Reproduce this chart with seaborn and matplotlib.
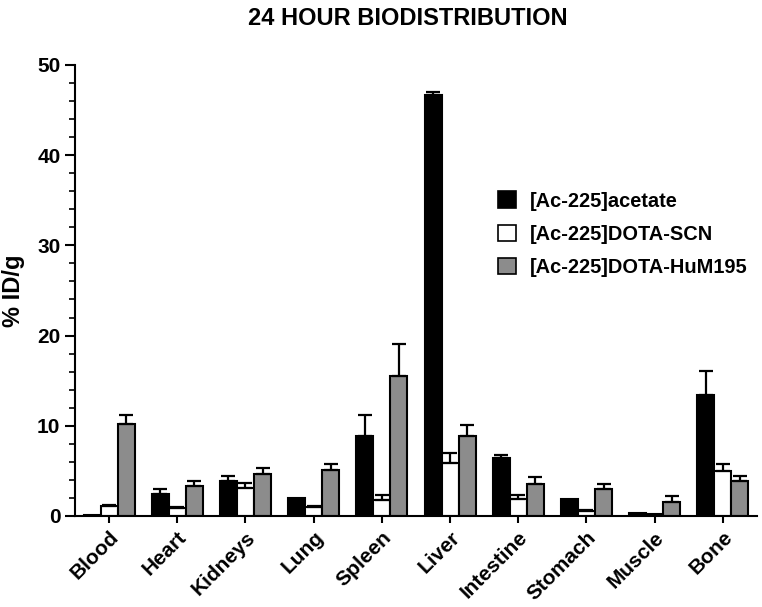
import pandas as pd
import matplotlib.pyplot as plt
import seaborn as sns
from matplotlib.patches import Patch
from matplotlib.ticker import MultipleLocator

organs = ['Blood', 'Heart', 'Kidneys', 'Lung', 'Spleen', 'Liver',
          'Intestine', 'Stomach', 'Muscle', 'Bone']
groups = ['[Ac-225]acetate', '[Ac-225]DOTA-SCN', '[Ac-225]DOTA-HuM195']

# mean %ID/g and upper error per group
acetate = [0.1, 2.45, 3.9, 1.95, 8.9, 46.7, 6.4, 1.85, 0.35, 13.4]
acetate_err = [0.0, 0.5, 0.5, 0.0, 2.3, 0.3, 0.4, 0.0, 0.0, 2.7]
scn = [1.15, 0.85, 3.15, 0.95, 1.75, 5.85, 1.85, 0.55, 0.25, 5.0]
scn_err = [0.1, 0.1, 0.5, 0.1, 0.6, 1.15, 0.5, 0.15, 0.0, 0.75]
hum = [10.2, 3.3, 4.6, 5.1, 15.5, 8.85, 3.55, 3.0, 1.55, 3.9]
hum_err = [1.0, 0.55, 0.75, 0.65, 3.6, 1.2, 0.8, 0.5, 0.7, 0.5]

df = pd.DataFrame({
    'organ': organs * 3,
    'group': [groups[0]] * 10 + [groups[1]] * 10 + [groups[2]] * 10,
    'value': acetate + scn + hum,
    'err': acetate_err + scn_err + hum_err,
})

sns.set_style('ticks')
plt.rcParams['font.family'] = ['Liberation Sans', 'DejaVu Sans']
plt.rcParams['font.weight'] = 'bold'
for k in ['text.color', 'axes.labelcolor', 'xtick.color', 'ytick.color',
          'axes.edgecolor']:
    plt.rcParams[k] = 'black'

fig = plt.figure(figsize=(7.62, 6.07), dpi=100)
ax = fig.add_axes([0.0984, 0.150, 0.895, 0.743])

colors = ['#000000', '#ffffff', '#8c8c8c']
sns.barplot(data=df, x='organ', y='value', hue='group', order=organs,
            hue_order=groups, palette=colors, width=0.75, gap=0,
            edgecolor='black', linewidth=1.5, errorbar=None, ax=ax,
            legend=False)

# upper error bars, one per bar patch
bars = ax.patches[:30]
errs = acetate_err + scn_err + hum_err
for p, e in zip(bars, errs):
    if e <= 0:
        continue
    xc = p.get_x() + p.get_width() / 2
    ax.errorbar(xc, p.get_height(), yerr=[[0], [e]], fmt='none',
                ecolor='black', elinewidth=1.6, capsize=5, capthick=1.6)

ax.set_ylim(0, 50)
ax.set_xlim(-0.5, 9.5)
ax.yaxis.set_major_locator(MultipleLocator(10))
ax.yaxis.set_minor_locator(MultipleLocator(2))
ax.tick_params(axis='y', which='major', length=7, width=1.5, labelsize=15)
ax.tick_params(axis='y', which='minor', length=4, width=1.2)
ax.tick_params(axis='x', length=5, width=1.5, labelsize=15)
plt.setp(ax.get_xticklabels(), rotation=45, ha='right', rotation_mode='anchor',
         fontweight='bold')
plt.setp(ax.get_yticklabels(), fontweight='bold')
for s in ['left', 'bottom']:
    ax.spines[s].set_linewidth(1.5)
sns.despine(ax=ax)

ax.set_xlabel('')
ax.set_ylabel('% ID/g', fontsize=17, fontweight='bold')
ax.yaxis.set_label_coords(-0.073, 0.5)
fig.suptitle('24 HOUR BIODISTRIBUTION', fontsize=17, fontweight='bold',
             x=0.535, y=0.988)

handles = [Patch(facecolor=c, edgecolor='black', linewidth=1.2) for c in colors]
ax.legend(handles, groups, loc='upper left', bbox_to_anchor=(0.606, 0.742),
          frameon=False, prop={'size': 14.4, 'weight': 'bold'},
          handlelength=0.9, handleheight=0.9, handletextpad=0.7,
          labelspacing=0.7, borderpad=0)

fig.savefig('out.png', dpi=100)
